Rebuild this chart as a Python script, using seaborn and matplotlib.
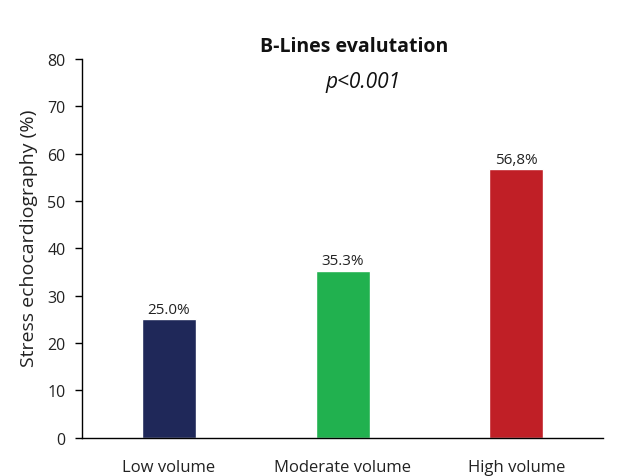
import matplotlib
matplotlib.use("Agg")
import matplotlib.pyplot as plt
import seaborn as sns
import pandas as pd

categories = ["Low volume", "Moderate volume", "High volume"]
values = [25.0, 35.3, 56.8]
value_labels = ["25.0%", "35.3%", "56,8%"]
colors = ["#1F2859", "#21B14F", "#C01F26"]
y_ticks = [0, 10, 20, 30, 40, 50, 60, 70, 80]

sns.set_theme(style="white")
plt.rcParams["font.family"] = ["Open Sans", "DejaVu Sans"]

df = pd.DataFrame({"group": categories, "pct": values})

fig = plt.figure(figsize=(6.41, 4.77), dpi=100)
ax = fig.add_axes([0.128, 0.080, 0.813, 0.794])

sns.barplot(data=df, x="group", y="pct", hue="group", palette=colors,
            width=0.31, legend=False, ax=ax, saturation=1)

ax.set_ylim(0, 80)
ax.set_xlim(-0.5, 2.5)
ax.set_yticks(y_ticks)
ax.set_yticklabels([str(t) for t in y_ticks], fontsize=11.5, color="#222222")
ax.set_xticks(range(len(categories)))
ax.set_xticklabels(categories, fontsize=12, color="#222222")
ax.tick_params(axis="x", which="major", length=0, pad=15)
ax.set_xticks([-0.5, 0.5, 1.5, 2.5], minor=True)
ax.tick_params(axis="x", which="minor", length=4, width=1, color="black", direction="out")
ax.tick_params(axis="y", length=5, width=1, color="black", direction="out", left=True, pad=7)

for side in ["top", "right"]:
    ax.spines[side].set_visible(False)
for side in ["left", "bottom"]:
    ax.spines[side].set_color("black")
    ax.spines[side].set_linewidth(1)

ax.set_xlabel("")
ax.set_ylabel("Stress echocardiography (%)", fontsize=14, color="#222222")
ax.yaxis.set_label_coords(-0.085, 0.53)

for bar, lab in zip(ax.patches, value_labels):
    ax.text(bar.get_x() + bar.get_width() / 2, bar.get_height() + 0.5, lab,
            ha="center", va="bottom", fontsize=11, color="#222222")

fig.text(0.552, 0.901, "B-Lines evalutation", ha="center", va="center",
         fontsize=14, fontweight="bold", color="#111111")
fig.text(0.566, 0.828, "p<0.001", ha="center", va="center",
         fontsize=15, fontstyle="italic", color="#111111")

fig.savefig("out.png", dpi=100, facecolor="white")
